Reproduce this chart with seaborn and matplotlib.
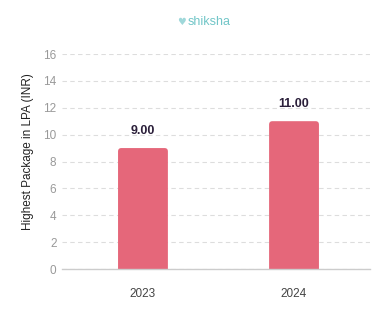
import matplotlib
matplotlib.use("Agg")
import matplotlib.pyplot as plt
import seaborn as sns
import pandas as pd
from matplotlib.path import Path
from matplotlib.patches import PathPatch

years = ["2023", "2024"]
packages = [9.00, 11.00]
yticks = [0, 2, 4, 6, 8, 10, 12, 14, 16]

BAR = "#E5677A"
sns.set_theme(style="white")
plt.rcParams['font.family'] = ['Liberation Sans', 'DejaVu Sans']

df = pd.DataFrame({"year": years, "pkg": packages})
fig = plt.figure(figsize=(3.82, 3.36), dpi=100)
ax = fig.add_axes([62 / 382, 67 / 336, 308 / 382, 215 / 336])
sns.barplot(data=df, x="year", y="pkg", color=BAR, width=0.33, ax=ax, saturation=1)

ax.set_ylim(0, 16)
ax.set_xlim(-0.536, 1.503)

# rounded top corners
rx, ry = 0.022, 0.25
for p in list(ax.patches):
    x, y0, w, h = p.get_x(), p.get_y(), p.get_width(), p.get_height()
    p.set_visible(False)
    t = y0 + h
    verts = [(x, y0), (x, t - ry), (x, t), (x + rx, t), (x + w - rx, t),
             (x + w, t), (x + w, t - ry), (x + w, y0), (x, y0)]
    codes = [Path.MOVETO, Path.LINETO, Path.CURVE3, Path.CURVE3, Path.LINETO,
             Path.CURVE3, Path.CURVE3, Path.LINETO, Path.CLOSEPOLY]
    ax.add_patch(PathPatch(Path(verts, codes), facecolor=BAR, edgecolor="none", zorder=2))

ax.set_yticks(yticks)
ax.set_yticklabels([str(t) for t in yticks])
ax.yaxis.grid(True, linestyle=(0, (4, 3)), color="#dddddd", linewidth=0.8)
ax.set_axisbelow(True)
for s in ["top", "right", "left"]:
    ax.spines[s].set_visible(False)
ax.spines["bottom"].set_color("#cccccc")
ax.spines["bottom"].set_linewidth(1)
ax.tick_params(axis="y", colors="#999999", labelsize=8.5, length=0, pad=4)
ax.tick_params(axis="x", colors="#444444", labelsize=8.5, length=0, pad=14)
ax.set_xlabel("")
ax.set_ylabel("Highest Package in LPA (INR)", fontsize=8.5, color="#222222")
ax.yaxis.set_label_coords(-28 / 308, (269 - 152) / 215)

for i, v in enumerate(packages):
    ax.annotate(f"{v:.2f}", (i, v), xytext=(0, 8), textcoords="offset points",
                ha="center", va="bottom", fontsize=9, fontweight="bold", color="#2b1f3a")

fig.text(0.548, 0.935, "shiksha", ha="center", va="center", fontsize=9, color="#72c6c8")
fig.text(0.474, 0.935, "♥", ha="center", va="center", fontsize=7, color="#9fd8da",
         family=["DejaVu Sans"])
fig.savefig("out.png", dpi=100)
